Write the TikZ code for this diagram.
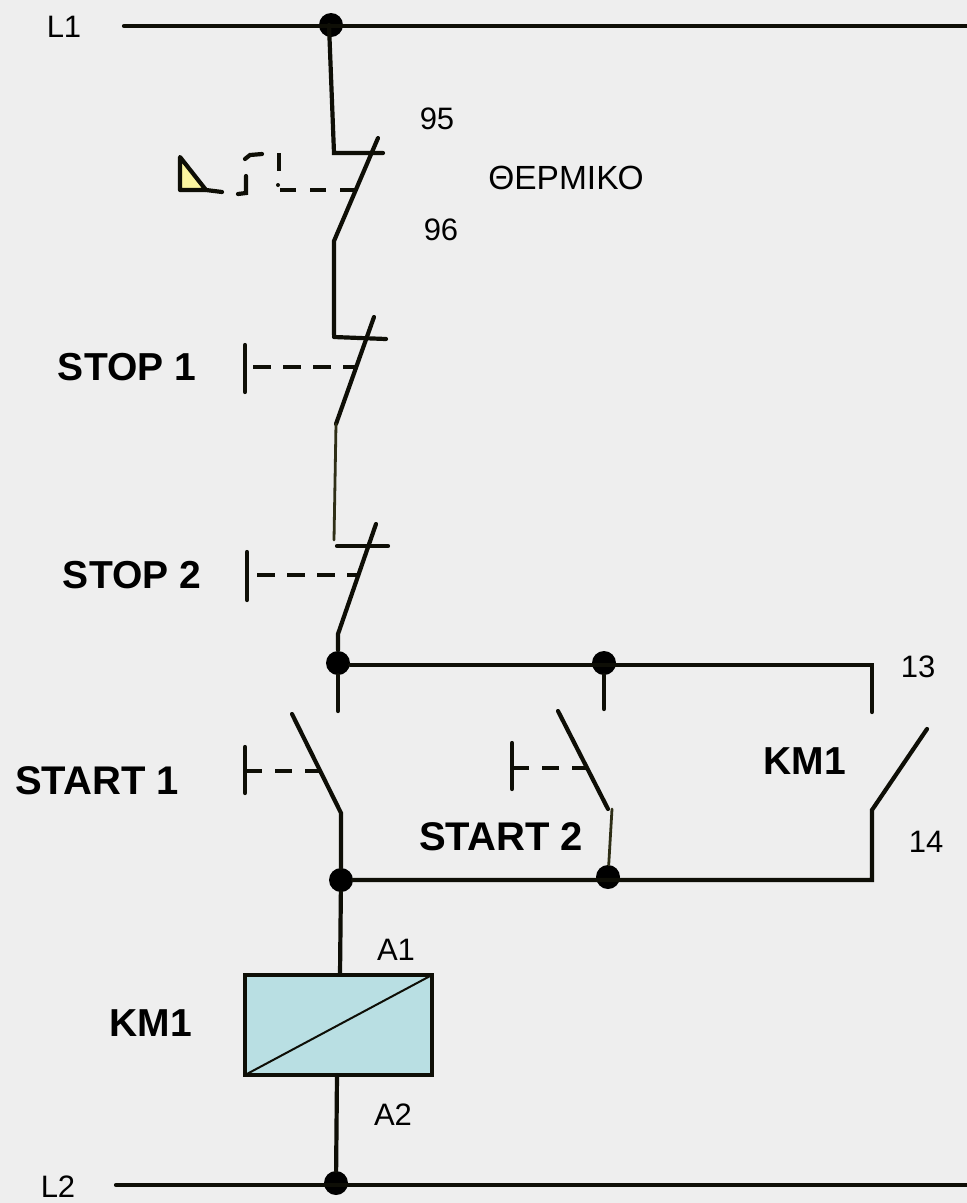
\documentclass[tikz,border=0pt]{standalone}
\usepackage{fontspec}
\setmainfont{Liberation Sans}
\definecolor{bg}{HTML}{EEEEEE}
\definecolor{ln}{HTML}{0E0E06}
\definecolor{thinc}{HTML}{2E2E16}
\definecolor{coilc}{HTML}{B9DFE3}
\definecolor{therm}{HTML}{FBF5A0}
\tikzset{
  wire/.style={draw=ln,line width=4.2pt,line cap=round},
  thin wire/.style={draw=thinc,line width=2.8pt,line cap=round},
  dashl/.style={draw=ln,line width=4pt,dash pattern=on 18pt off 12pt},
  dashs/.style={draw=ln,line width=4pt,dash pattern=on 17pt off 13pt},
  dot/.style={circle,fill=black,inner sep=0pt,minimum size=24pt},
  lbl/.style={font=\fontsize{31pt}{33pt}\selectfont,text=black,inner sep=0pt},
  glbl/.style={font=\fontsize{33.5pt}{35pt}\selectfont,text=black,inner sep=0pt},
  blbl/.style={font=\fontsize{39pt}{41pt}\selectfont\bfseries,text=black,inner sep=0pt},
  blblw/.style={font=\fontsize{40pt}{42pt}\selectfont\bfseries,text=black,inner sep=0pt}
}
\begin{document}
\begin{tikzpicture}[x=1pt,y=-1pt]
\useasboundingbox (0,0) rectangle (967,1203);
\fill[bg] (0,0) rectangle (967,1203);
\node[dot] (n1) at (331,25) {};
\node[dot] (n2) at (338,663) {};
\node[dot] (n3) at (604,663) {};
\node[dot] (n4) at (341,880) {};
\node[dot] (n5) at (608,877) {};
\node[dot] (n6) at (336,1183) {};
\coordinate (l1s) at (124,26); \coordinate (l1e) at (967,26);
\coordinate (l2s) at (116,1185); \coordinate (l2e) at (967,1185);
\draw[wire] (l1s) -- (l1e);
\draw[wire] (l2s) -- (l2e);
% thermal
\draw[wire] (329,25) -- (334,153) -- (383,153);
\draw[wire] (378,138) -- (334,241) -- (334,335);
\draw[dashs,dash pattern=on 16pt off 14pt] (280,190) -- (355,190);
\fill[ln] (278,185) circle (2pt);
\draw[wire,line cap=butt] (279,153) -- (279,171);
\draw[wire] (246,176) -- (246,193) -- (238,194);
\draw[wire] (245,159) -- (250,155) -- (262,154);
\draw[wire,fill=therm,line join=round] (180,157) -- (180,190) -- (206,190) -- cycle;
\draw[wire] (206,190) -- (222,192);
% stop1
\draw[wire] (334,337) -- (386,339);
\draw[wire] (374,317) -- (336,424);
\draw[thin wire] (336,424) -- (334,540);
\draw[wire] (245,345) -- (245,392);
\draw[dashl] (253,367) -- (355,367);
% stop2
\draw[wire] (337,546) -- (388,546);
\draw[wire] (376,524) -- (338,634) -- (338,650);
\draw[wire] (247,552) -- (247,600);
\draw[dashl] (257,575) -- (358,575);
% branches
\draw[wire] (n2) -- (338,711);
\draw[wire] (n2.east |- 338,665) -- (872,665) -- (872,712);
\draw[wire] (n3) -- (604,709);
% start 1
\draw[wire] (292,714) -- (341,813) -- (n4);
\draw[wire] (245,747) -- (245,793);
\draw[dashs] (245,771) -- (320,771);
% start 2
\draw[wire] (558,711) -- (608,809);
\draw[thin wire] (612,809) -- (n5);
\draw[wire] (512,743) -- (512,789);
\draw[dashs] (512,768) -- (586,768);
% KM1 contact
\draw[wire] (927,729) -- (872,810) -- (872,880) -- (n4);
% coil
\draw[wire] (n4) -- (340,975);
\node[draw=ln,line width=4.2pt,fill=coilc,minimum width=187pt,minimum height=100pt,inner sep=0pt,outer sep=0pt,anchor=north west] (coil) at (245,975) {};
\draw[draw=ln,line width=2pt] (coil.south west) -- (coil.north east);
\draw[wire] (coil.south -| 337,0) -- (n6);
% labels
\node[lbl] (t1) at (64,27) {L1};
\node[lbl] (t2) at (58,1187) {L2};
\node[lbl] (t3) at (437,119) {95};
\node[lbl] (t4) at (441,230) {96};
\node[glbl] (t5) at (566,178) {ΘΕΡΜΙΚΟ};
\node[blbl] (t6) at (127,367) {STOP 1};
\node[blbl] (t7) at (132,575) {STOP 2};
\node[blblw] (t8) at (97,781) {START 1};
\node[blblw] (t9) at (501,837) {START 2};
\node[blbl] (t10) at (805,761) {KM1};
\node[blbl] (t11) at (151,1023) {KM1};
\node[lbl] (t12) at (918,667) {13};
\node[lbl] (t13) at (926,842) {14};
\node[lbl] (t14) at (396,950) {A1};
\node[lbl] (t15) at (393,1115) {A2};
\end{tikzpicture}
\end{document}
